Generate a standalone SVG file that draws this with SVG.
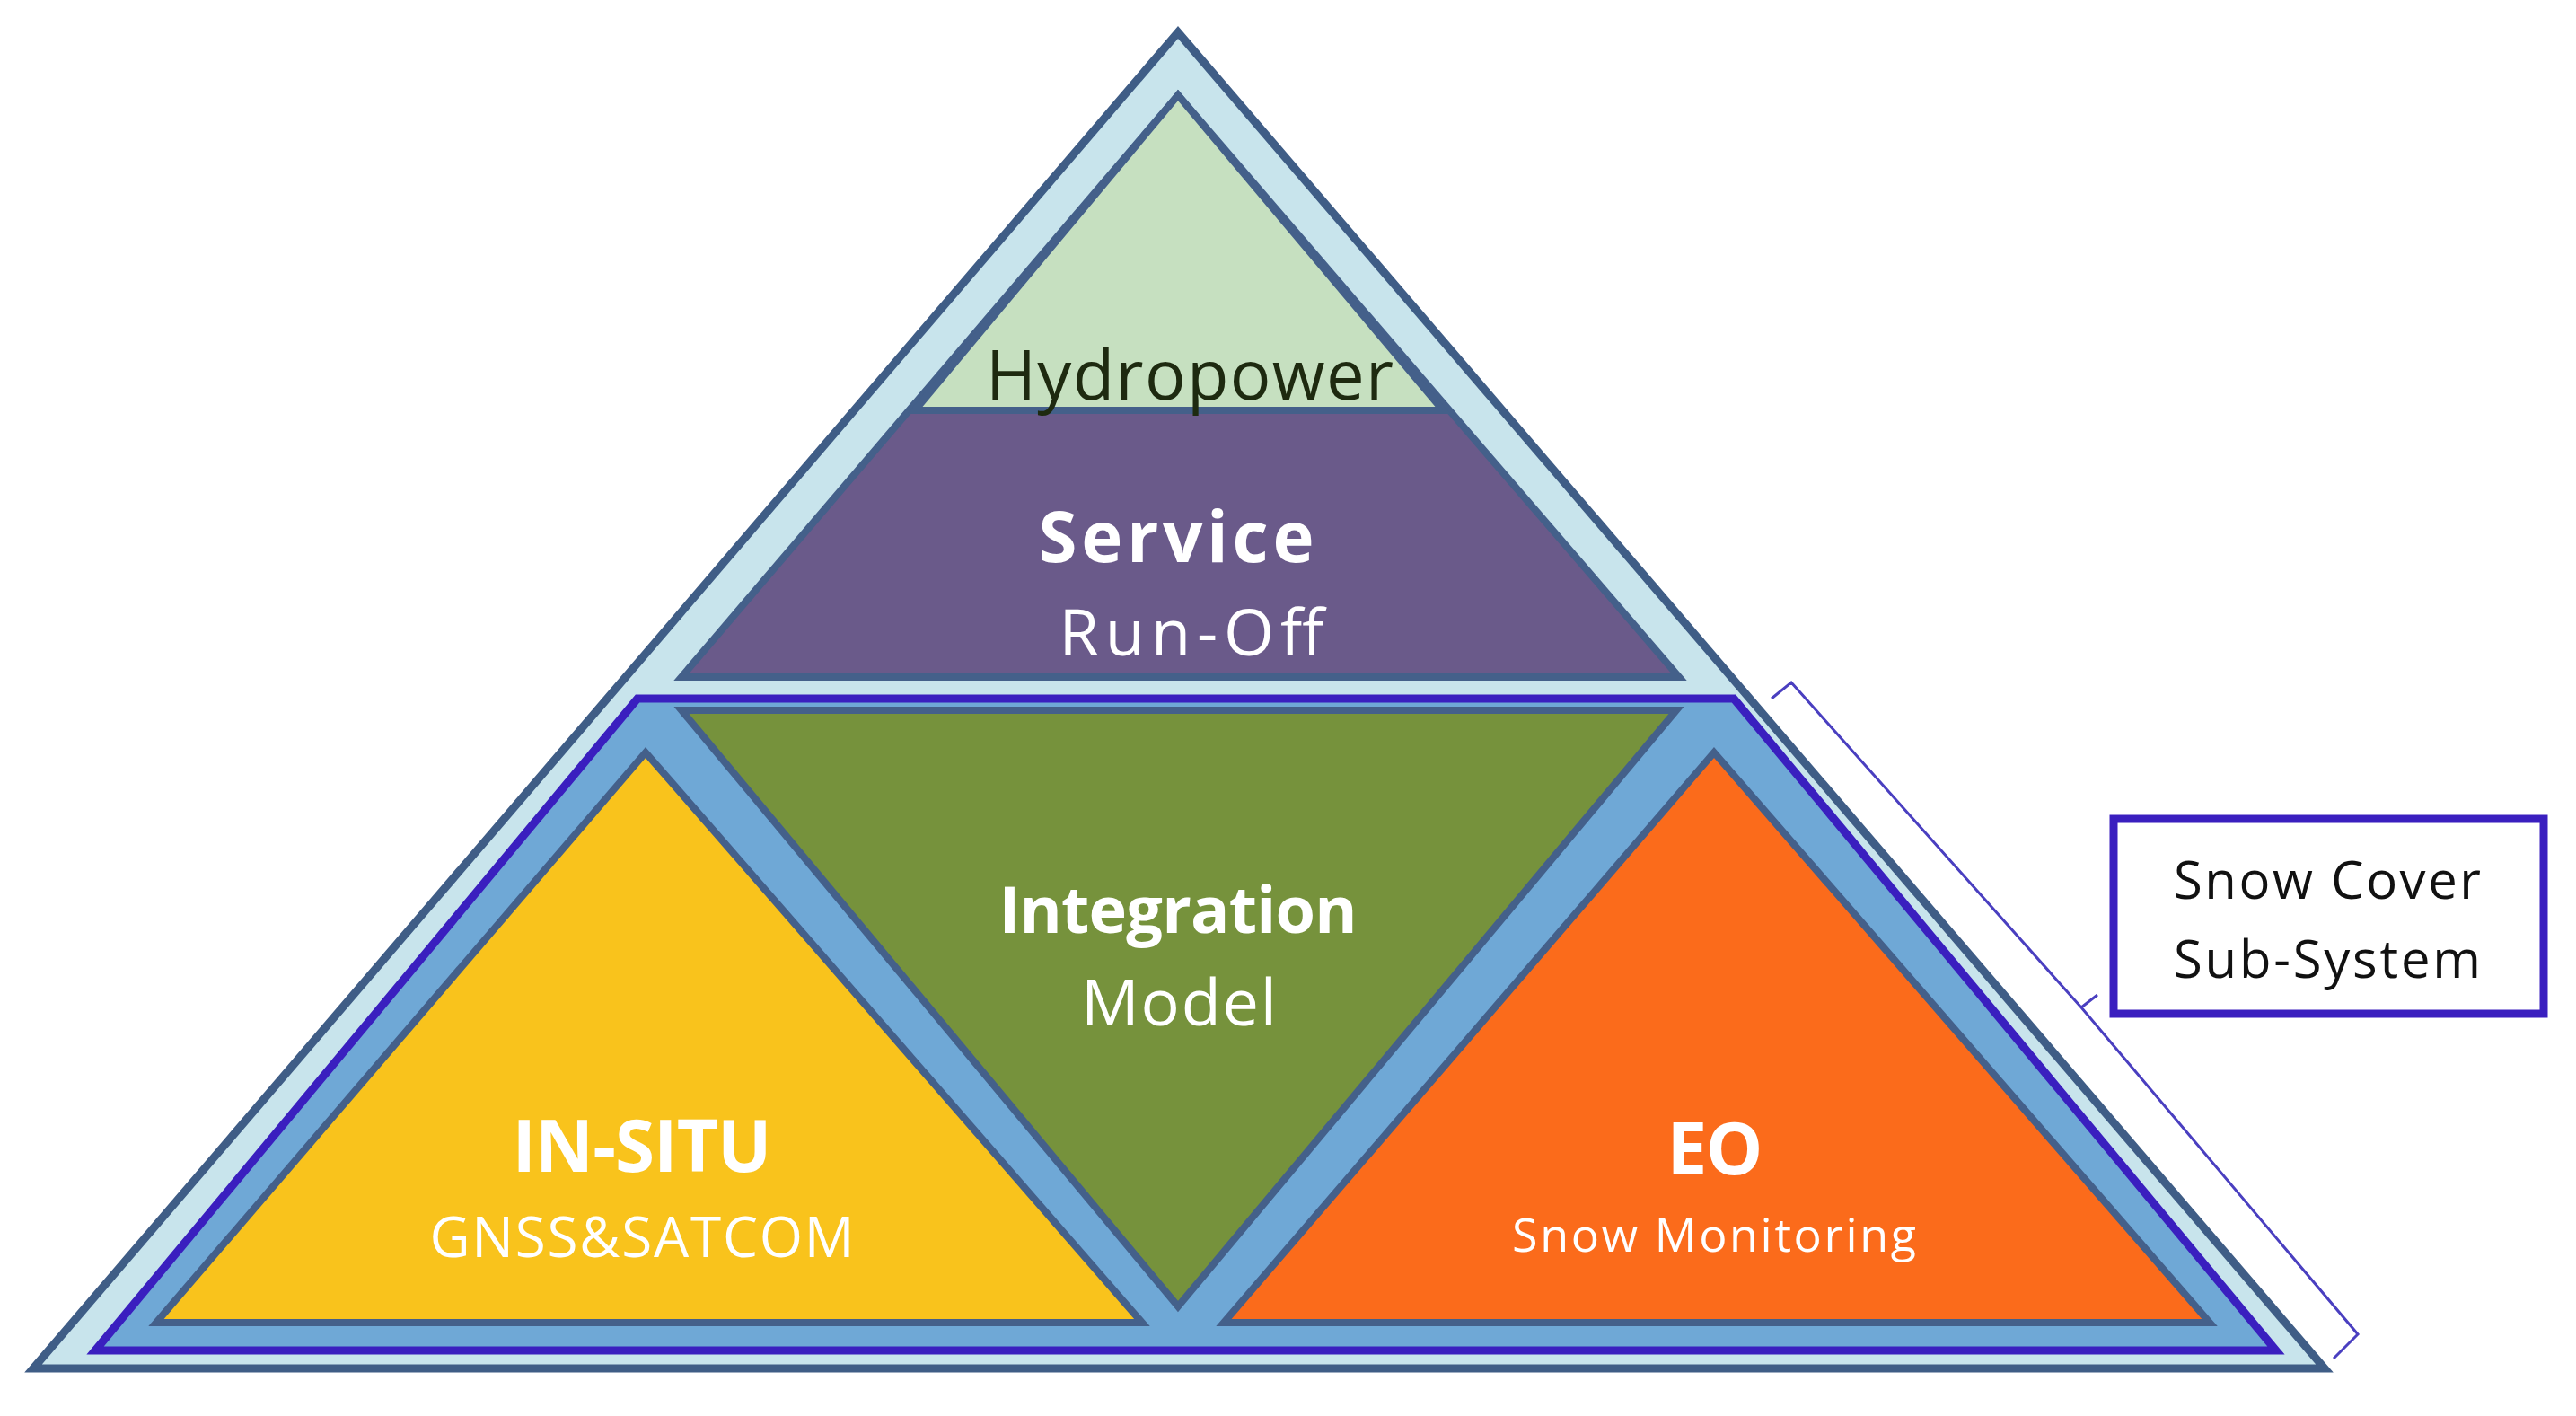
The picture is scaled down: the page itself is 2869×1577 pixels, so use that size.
<svg xmlns="http://www.w3.org/2000/svg" width="2869" height="1577" viewBox="0 0 2869 1577">
<style>
.t{font-family:"Open Sans","Liberation Sans",sans-serif;text-anchor:middle;fill:#fff}
.b{font-weight:bold}
.s{stroke:#44608a;stroke-width:8;stroke-linejoin:miter}
</style>
<rect width="2869" height="1577" fill="#fff"/>
<g id="outer"><polygon points="1312,36 37,1524 2589,1524" fill="#c8e4ec" stroke="#3f5d86" stroke-width="9"/></g>
<g id="top">
<polygon points="1312,106 759,754 1870,754" fill="#6a5a8a" class="s"/>
<polygon points="1312,106 1019,457 1607,457" fill="#c6e0c0" class="s"/>
<text class="t" x="1325" y="445" font-size="76" style="fill:#1e2a10" textLength="454">Hydropower</text>
<text class="t b" x="1310" y="626" font-size="78" textLength="307">Service</text>
<text class="t" x="1327" y="730" font-size="72" textLength="295">Run-Off</text>
</g>
<g id="band"><polygon points="710,778 1931,778 2535,1504 106,1504" fill="#6fa8d6" stroke="#3a1fbf" stroke-width="9"/></g>
<g id="insitu">
<polygon points="719,838 174,1473 1272,1473" fill="#f9c31c" class="s"/>
<text class="t b" x="715" y="1305" font-size="80" textLength="289">IN-SITU</text>
<text class="t" x="715" y="1400" font-size="62" textLength="473">GNSS&amp;SATCOM</text>
</g>
<g id="integration">
<polygon points="759,791 1867,791 1312,1455" fill="#76923c" class="s"/>
<text class="t b" x="1312" y="1039" font-size="72" textLength="399">Integration</text>
<text class="t" x="1313" y="1142" font-size="72" textLength="218">Model</text>
</g>
<g id="eo">
<polygon points="1909,838 1363,1473 2461,1473" fill="#fb6b1b" class="s"/>
<text class="t b" x="1910" y="1308" font-size="80" textLength="107">EO</text>
<text class="t" x="1909" y="1394" font-size="52" textLength="450">Snow Monitoring</text>
</g>
<g id="label">
<rect x="2354" y="912" width="479" height="217" fill="#fff" stroke="#3a1fbf" stroke-width="9"/>
<text class="t" x="2592" y="1001" font-size="58" style="fill:#111" textLength="342">Snow Cover</text>
<text class="t" x="2592" y="1089" font-size="58" style="fill:#111" textLength="342">Sub-System</text>
</g>
<g id="connectors">
<polyline points="1973,778 1995,760 2318,1122 2336,1108 2318,1122 2626,1486 2599,1513" fill="none" stroke="#4a3fc0" stroke-width="3"/>
</g>
</svg>
